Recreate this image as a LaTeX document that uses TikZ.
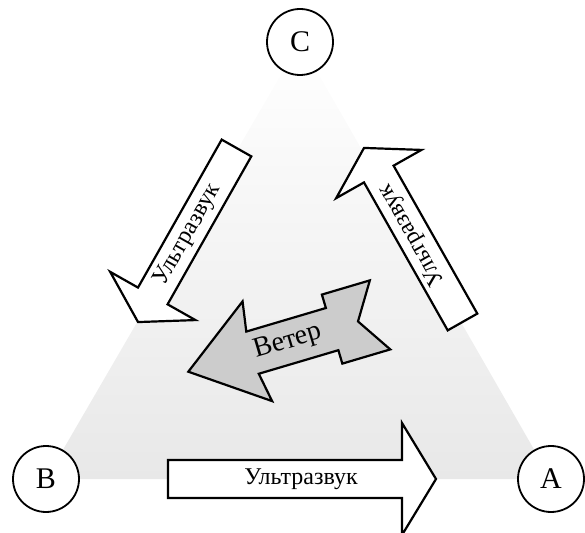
\documentclass[tikz,border=0pt]{standalone}
\usepackage{fontspec}
\setmainfont{Liberation Serif}
\begin{document}
\begin{tikzpicture}[x=1pt,y=1pt,
  vertex/.style={circle,draw,line width=1.8pt,fill=white,minimum size=66pt,inner sep=0pt,font=\fontsize{30}{34}\selectfont},
  usarrow/.style={draw,line width=2.2pt,fill=white,line join=miter},
  windarrow/.style={draw,line width=2.2pt,fill=black!20,line join=miter},
  arrowtext/.style={inner sep=0pt,font=\fontsize{24}{28}\selectfont}]
\useasboundingbox (0,0) rectangle (585,532);
\coordinate (pB) at (46,53);
\coordinate (pA) at (551,53);
\coordinate (pC) at (300,490);
% background triangle
\shade[top color=white,bottom color=black!9] (pB) -- (pA) -- (pC) -- cycle;
\node[vertex] (B) at (pB) {B};
\node[vertex] (A) at (pA) {A};
\node[vertex] (C) at (pC) {C};
% B -> A
\draw[usarrow] (168,34) -- (402,34) -- (402,-3) -- (436,53) -- (402,109) -- (402,72) -- (168,72) -- cycle;
\node[arrowtext] (usBA) at (301,53) {Ультразвук};
% C -> B
\begin{scope}[shift={(236.5,384)},rotate=240.5]
\draw[usarrow] (0,-17) -- (170,-17) -- (170,-49) -- (200,0) -- (170,49) -- (170,17) -- (0,17) -- cycle;
\end{scope}
\node[arrowtext,rotate=60.5] (usCB) at (188,297) {Ультразвук};
% A -> C
\begin{scope}[shift={(462.5,210)},rotate=119.5]
\draw[usarrow] (0,-17) -- (170,-17) -- (170,-49) -- (200,0) -- (170,49) -- (170,17) -- (0,17) -- cycle;
\end{scope}
\node[arrowtext,rotate=119.5] (usAC) at (412,297) {Ультразвук};
% wind
\begin{scope}[shift={(188.3,160.3)},rotate=16.5]
\draw[windarrow] (0,0) -- (72,-52) -- (67,-22) -- (150,-22) -- (150,-36) -- (200,-36) -- (177,0)
  -- (200,36) -- (150,36) -- (150,22) -- (67,22) -- (72,52) -- cycle;
\end{scope}
\node[arrowtext,font=\fontsize{28}{32}\selectfont,rotate=16.5] (wind) at (288,190) {Ветер};
\end{tikzpicture}
\end{document}
